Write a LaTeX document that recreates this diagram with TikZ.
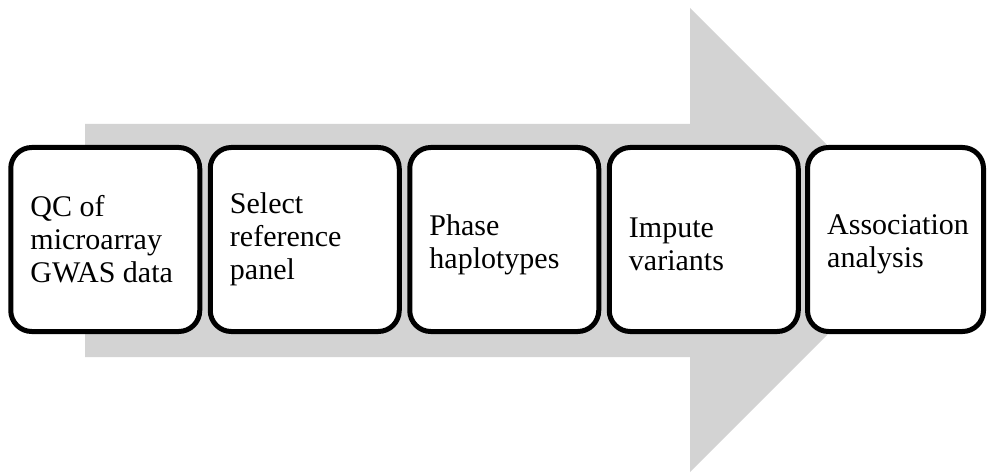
\documentclass[tikz,border=0pt]{standalone}
\usepackage{fontspec}
\setmainfont{Liberation Serif}
\definecolor{arrowgray}{RGB}{211,211,211}
\tikzset{
  stepbox/.style={draw=black, fill=white, line width=5pt, rounded corners=21pt,
    minimum width=189pt, minimum height=184pt, outer sep=0pt, inner sep=0pt},
  lbl/.style={anchor=west, align=left, inner sep=0pt,
    font=\fontsize{30}{33}\selectfont}
}
\begin{document}
\begin{tikzpicture}[x=1pt,y=1pt]
\useasboundingbox (0,0) rectangle (987,472);
% big gray arrow
\fill[arrowgray] (85,348) -- (690,348) -- (690,464) -- (922,232) -- (690,0) -- (690,115) -- (85,115) -- cycle;
% boxes
\node[stepbox] (b1) at (105.25,232.5) {};
\node[stepbox] (b2) at (304.75,232.5) {};
\node[stepbox] (b3) at (504.25,232.5) {};
\node[stepbox] (b4) at (703.75,232.5) {};
\node[stepbox, minimum width=176pt] (b5) at (895.5,232.5) {};
% labels
\node[lbl] (t1) at ([xshift=19.5pt]b1.west) {QC of\\microarray\\GWAS data};
\node[lbl] (t2) at ([xshift=19.5pt]b2.west) {Select\\reference\\panel};
\node[lbl] (t3) at ([xshift=19.5pt,yshift=-5pt]b3.west) {Phase\\haplotypes};
\node[lbl] (t4) at ([xshift=19.5pt,yshift=-5pt]b4.west) {Impute\\variants};
\node[lbl] (t5) at ([xshift=19.5pt,yshift=-5pt]b5.west) {Association\\analysis};
\end{tikzpicture}
\end{document}
